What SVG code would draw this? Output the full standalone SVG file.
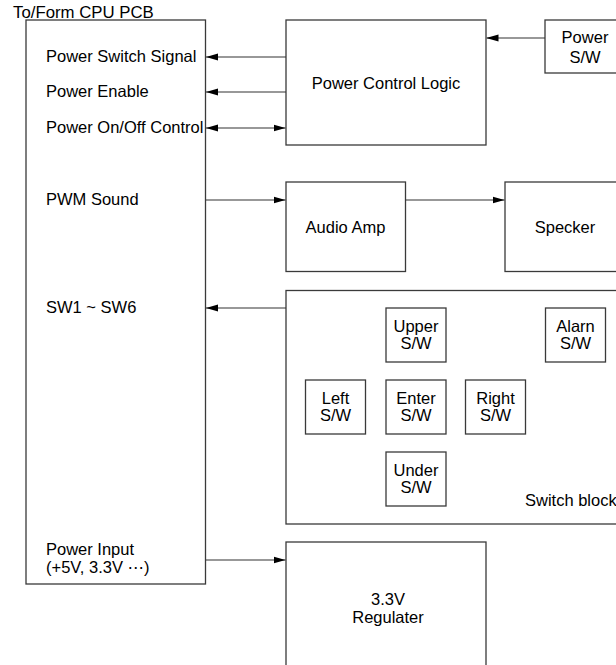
<svg xmlns="http://www.w3.org/2000/svg" width="616" height="665" viewBox="0 0 616 665">
<style>
.box{fill:#ffffff;stroke:#3a3a3a;stroke-width:1.3}
.t{font-family:"Liberation Sans",Arial,"DejaVu Sans",sans-serif;font-size:16.5px;fill:#000}
.c{text-anchor:middle}
.ln{stroke:#333;stroke-width:1.1;fill:none}
</style>
<defs>
<marker id="ah" markerUnits="userSpaceOnUse" markerWidth="12" markerHeight="8" refX="12" refY="4" orient="auto-start-reverse" viewBox="0 0 12 8">
<path d="M0,0.5 L12,4 L0,7.5 z" fill="#000"/>
</marker>
</defs>
<rect width="616" height="665" fill="#fff"/>

<g id="cpu-pcb">
<rect class="box" x="26" y="20" width="179.5" height="564"/>
<text class="t" x="13" y="18" style="font-size:16.8px">To/Form CPU PCB</text>
<text class="t" x="46" y="62">Power Switch Signal</text>
<text class="t" x="46" y="97">Power Enable</text>
<text class="t" x="46" y="133">Power On/Off Control</text>
<text class="t" x="46" y="205">PWM Sound</text>
<text class="t" x="46" y="313">SW1 ~ SW6</text>
<text class="t" x="46" y="554.5">Power Input</text>
<text class="t" x="46" y="572.5">(+5V, 3.3V ⋯)</text>
</g>

<g id="power-control-logic">
<rect class="box" x="286" y="20" width="200" height="125"/>
<text class="t c" x="386" y="88.5">Power Control Logic</text>
</g>

<g id="power-sw">
<rect class="box" x="545" y="20" width="80" height="53"/>
<text class="t c" x="585" y="43">Power</text>
<text class="t c" x="585" y="62.5">S/W</text>
</g>

<g id="audio-amp">
<rect class="box" x="286" y="182" width="119.5" height="89.5"/>
<text class="t c" x="345.5" y="233">Audio Amp</text>
</g>

<g id="specker">
<rect class="box" x="505" y="182" width="120" height="89.5"/>
<text class="t c" x="565" y="233">Specker</text>
</g>

<g id="switch-block">
<rect class="box" x="286" y="290.5" width="340" height="233.5"/>
<text class="t" x="525" y="506">Switch block</text>
</g>

<g id="upper-sw">
<rect class="box" x="386" y="308" width="60" height="54"/>
<text class="t c" x="416" y="332">Upper</text>
<text class="t c" x="416" y="349">S/W</text>
</g>

<g id="alarn-sw">
<rect class="box" x="545.5" y="308" width="60" height="54"/>
<text class="t c" x="575.5" y="332">Alarn</text>
<text class="t c" x="575.5" y="349">S/W</text>
</g>

<g id="left-sw">
<rect class="box" x="305.5" y="380" width="60" height="54"/>
<text class="t c" x="335.5" y="404">Left</text>
<text class="t c" x="335.5" y="421">S/W</text>
</g>

<g id="enter-sw">
<rect class="box" x="386" y="380" width="60" height="54"/>
<text class="t c" x="416" y="404">Enter</text>
<text class="t c" x="416" y="421">S/W</text>
</g>

<g id="right-sw">
<rect class="box" x="465.5" y="380" width="60" height="54"/>
<text class="t c" x="495.5" y="404">Right</text>
<text class="t c" x="495.5" y="421">S/W</text>
</g>

<g id="under-sw">
<rect class="box" x="386" y="452" width="60" height="54"/>
<text class="t c" x="416" y="476">Under</text>
<text class="t c" x="416" y="493">S/W</text>
</g>

<g id="regulator">
<rect class="box" x="286" y="542" width="200" height="130"/>
<text class="t c" x="388" y="604.5">3.3V</text>
<text class="t c" x="388" y="622.5">Regulater</text>
</g>

<g id="connectors">
<line class="ln" x1="545" y1="38" x2="486.5" y2="38" marker-end="url(#ah)"/>
<line class="ln" x1="286" y1="57" x2="206" y2="57" marker-end="url(#ah)"/>
<line class="ln" x1="286" y1="92" x2="206" y2="92" marker-end="url(#ah)"/>
<line class="ln" x1="206" y1="128" x2="285.5" y2="128" marker-start="url(#ah)" marker-end="url(#ah)"/>
<line class="ln" x1="206" y1="200" x2="285.5" y2="200" marker-end="url(#ah)"/>
<line class="ln" x1="405.5" y1="200" x2="504.5" y2="200" marker-end="url(#ah)"/>
<line class="ln" x1="286" y1="308" x2="206" y2="308" marker-end="url(#ah)"/>
<line class="ln" x1="206" y1="560" x2="285.5" y2="560" marker-end="url(#ah)"/>
</g>
</svg>
